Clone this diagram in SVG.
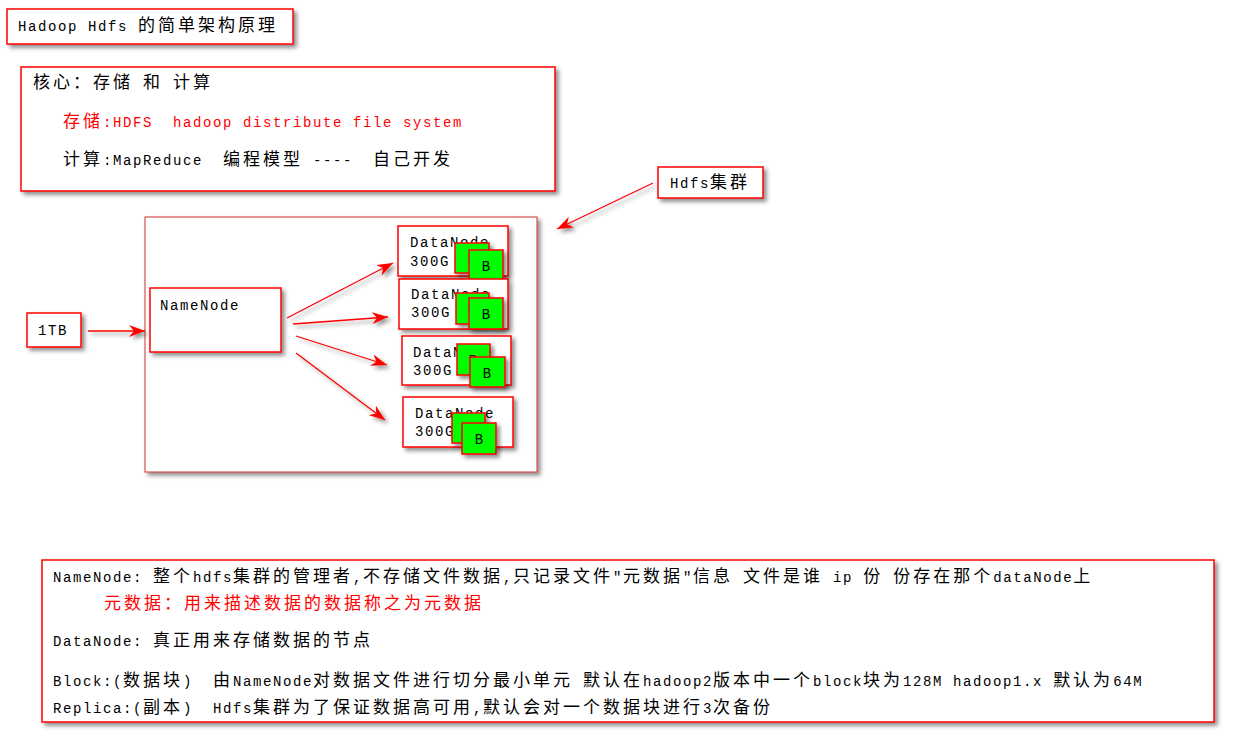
<svg xmlns="http://www.w3.org/2000/svg" width="1255" height="754" viewBox="0 0 1255 754">
<style>
text { font-family: "Liberation Mono", "Noto Sans CJK SC", monospace; font-size: 14px; letter-spacing: 1.6px; fill: #000; white-space: pre; }
.c { font-size: 17px; letter-spacing: 3px; }
.red { fill: #f00; }
.box { fill: #fff; stroke: #f00; stroke-width: 1.5; filter: url(#sh); }
.grn { fill: #00ff00; stroke: #f00; stroke-width: 1.5; filter: url(#sh); }
.b { letter-spacing: 0; text-anchor: middle; }
.conn line { stroke: #f00; stroke-width: 1.3; marker-end: url(#ah); }
</style>
<defs>
<filter id="sh" x="-10%" y="-10%" width="130%" height="140%">
<feDropShadow dx="3" dy="3" stdDeviation="2" flood-color="#000" flood-opacity="0.45"/>
</filter>
<marker id="ah" markerUnits="userSpaceOnUse" markerWidth="18" markerHeight="12" refX="16" refY="6" orient="auto">
<path d="M0,0 L16,6 L0,12 L5,6 z" fill="#f00"/>
</marker>
</defs>
<rect width="1255" height="754" fill="#fff"/>

<g id="title">
<rect class="box" x="7" y="9" width="286" height="35"/>
<text x="18" y="31">Hadoop Hdfs <tspan class="c">的简单架构原理</tspan></text>
</g>

<g id="core">
<rect class="box" x="21" y="67" width="534" height="124"/>
<text x="33" y="88"><tspan class="c">核心：存储</tspan> <tspan class="c">和</tspan> <tspan class="c">计算</tspan></text>
<text class="red" x="63" y="127"><tspan class="c">存储</tspan>:HDFS  hadoop distribute file system</text>
<text x="63" y="165"><tspan class="c">计算</tspan>:MapReduce  <tspan class="c">编程模型</tspan> ----  <tspan class="c">自己开发</tspan></text>
</g>

<g id="hdfs-label">
<rect class="box" x="658" y="167" width="105" height="31"/>
<text x="670" y="188">Hdfs<tspan class="c">集群</tspan></text>
</g>

<g id="cluster">
<rect class="box" x="145" y="217" width="392" height="255" style="stroke:#d03030;stroke-width:1"/>
</g>

<g id="tb">
<rect class="box" x="27" y="313" width="54" height="34"/>
<text x="38" y="335">1TB</text>
</g>

<g id="namenode">
<rect class="box" x="150" y="288" width="131" height="64"/>
<text x="160" y="310">NameNode</text>
</g>

<g id="dn1">
<rect class="box" x="398" y="226" width="110" height="50"/>
<text x="410" y="247">DataNode</text>
<text x="410" y="266">300G</text>
<rect class="grn" x="455" y="243" width="34" height="30"/>
<text class="b" x="472" y="264">B</text>
<rect class="grn" x="469" y="250" width="34" height="30"/>
<text class="b" x="486" y="271">B</text>
</g>

<g id="dn2">
<rect class="box" x="399" y="279" width="109" height="50"/>
<text x="411" y="299">DataNode</text>
<text x="411" y="317">300G</text>
<rect class="grn" x="456" y="293" width="33" height="31"/>
<text class="b" x="472" y="314">B</text>
<rect class="grn" x="469" y="298" width="34" height="31"/>
<text class="b" x="486" y="319">B</text>
</g>

<g id="dn3">
<rect class="box" x="402" y="336" width="109" height="49"/>
<text x="413" y="357">DataNode</text>
<text x="413" y="375">300G</text>
<rect class="grn" x="457" y="344" width="33" height="31"/>
<text class="b" x="473" y="365">B</text>
<rect class="grn" x="470" y="357" width="35" height="30"/>
<text class="b" x="487" y="378">B</text>
</g>

<g id="dn4">
<rect class="box" x="403" y="397" width="110" height="50"/>
<text x="415" y="418">DataNode</text>
<text x="415" y="436">300G</text>
<rect class="grn" x="452" y="413" width="33" height="30"/>
<text class="b" x="468" y="434">B</text>
<rect class="grn" x="462" y="423" width="34" height="31"/>
<text class="b" x="479" y="444">B</text>
</g>

<g id="notes">
<rect class="box" x="42" y="560" width="1172" height="162"/>
<text x="53" y="582">NameNode: <tspan class="c">整个</tspan>hdfs<tspan class="c">集群的管理者</tspan>,<tspan class="c">不存储文件数据</tspan>,<tspan class="c">只记录文件</tspan>"<tspan class="c">元数据</tspan>"<tspan class="c">信息</tspan> <tspan class="c">文件是谁</tspan> ip <tspan class="c">份</tspan> <tspan class="c">份存在那个</tspan>dataNode<tspan class="c">上</tspan></text>
<text class="red" x="104" y="609"><tspan class="c">元数据：用来描述数据的数据称之为元数据</tspan></text>
<text x="53" y="646">DataNode: <tspan class="c">真正用来存储数据的节点</tspan></text>
<text x="53" y="686">Block:(<tspan class="c">数据块</tspan>)  <tspan class="c">由</tspan>NameNode<tspan class="c">对数据文件进行切分最小单元</tspan> <tspan class="c">默认在</tspan>hadoop2<tspan class="c">版本中一个</tspan>block<tspan class="c">块为</tspan>128M hadoop1.x <tspan class="c">默认为</tspan>64M</text>
<text x="53" y="713">Replica:(<tspan class="c">副本</tspan>)  Hdfs<tspan class="c">集群为了保证数据高可用</tspan>,<tspan class="c">默认会对一个数据块进行</tspan>3<tspan class="c">次备份</tspan></text>
</g>

<g id="connectors" class="conn" filter="url(#sh)">
<line x1="88" y1="331" x2="145" y2="331"/>
<line x1="287" y1="318" x2="393" y2="263"/>
<line x1="293" y1="324" x2="388" y2="317"/>
<line x1="296" y1="336" x2="387" y2="365"/>
<line x1="296" y1="353" x2="385" y2="420"/>
<line x1="653" y1="183" x2="557" y2="229"/>
</g>
</svg>
